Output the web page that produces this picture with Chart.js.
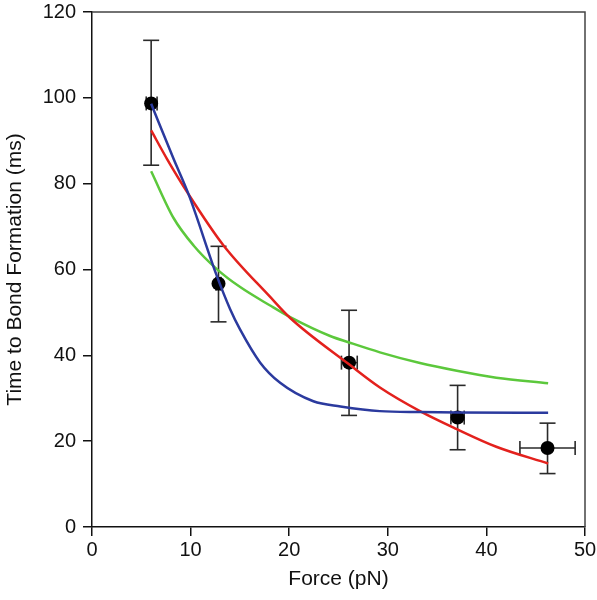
<!DOCTYPE html>
<html>
<head>
<meta charset="utf-8">
<script src="https://cdn.jsdelivr.net/npm/chart.js@4/dist/chart.umd.min.js"></script>
<style>
  html, body { margin: 0; padding: 0; background: #fff; }
  #wrap { width: 597px; height: 600px; }
</style>
</head>
<body>
<div id="wrap"><canvas id="bondChart" width="597" height="600"></canvas></div>
<script>
// measured points
const forceX = [6.0, 12.83, 26.07, 37.08, 46.2];
const timeY = [98.7, 56.7, 38.3, 25.5, 18.4];
const timeErrLow = [84.3, 47.8, 26.0, 18.0, 12.45];
const timeErrHigh = [113.4, 65.4, 50.5, 33.0, 24.2];
const forceErrLow = [5.5, 12.58, 25.3, 36.4, 43.4];
const forceErrHigh = [6.6, 13.08, 26.9, 37.75, 49.0];

// fitted curves
const redFitX = [6.0, 7.6, 9.8, 13.34, 18.07, 20.1, 26.07, 29.2, 33.26, 37.0, 41.0, 46.26];
const redFitY = [92.4, 85.8, 77.5, 65.6, 53.6, 48.7, 37.9, 32.5, 27.0, 22.8, 18.7, 14.8];
const greenFitX = [6.0, 8.27, 10.3, 12.66, 15.03, 18.07, 20.1, 24.15, 26.07, 29.2, 33.26, 37.0, 41.0, 46.26];
const greenFitY = [82.9, 72.0, 65.6, 60.1, 55.9, 51.6, 48.9, 44.5, 43.0, 40.7, 38.2, 36.4, 34.8, 33.5];
const blueFitX = [6.0, 8.27, 9.8, 12.66, 14.0, 15.0, 17.06, 19.08, 22.45, 25.2, 29.2, 33.3, 37.1, 46.26];
const blueFitY = [98.6, 85.8, 77.5, 58.5, 50.8, 46.1, 38.3, 33.6, 29.3, 28.1, 27.0, 26.8, 26.7, 26.6];

const xTicks = [0, 10, 20, 30, 40, 50];
const yTicks = [0, 20, 40, 60, 80, 100, 120];

function toPoints(xs, ys) {
    return xs.map((x, i) => ({ x: x, y: ys[i] }));
}

function fitLine(xs, ys, color) {
    return {
        data: toPoints(xs, ys),
        showLine: true,
        borderColor: color,
        borderWidth: 2.5,
        pointRadius: 0,
        cubicInterpolationMode: 'monotone',
        fill: false
    };
}

const barColor = '#2a2a2a';
const errorSets = [];
forceX.forEach((fx, i) => {
    // vertical bar with caps
    errorSets.push({
        data: [{ x: fx, y: timeErrLow[i] }, { x: fx, y: timeErrHigh[i] }],
        showLine: true,
        borderColor: barColor,
        borderWidth: 1.6,
        pointStyle: 'line',
        rotation: 0,
        pointRadius: 8,
        pointBorderColor: barColor,
        pointBorderWidth: 1.6
    });
    // horizontal bar with caps
    errorSets.push({
        data: [{ x: forceErrLow[i], y: timeY[i] }, { x: forceErrHigh[i], y: timeY[i] }],
        showLine: true,
        borderColor: barColor,
        borderWidth: 1.6,
        pointStyle: 'line',
        rotation: 90,
        pointRadius: 7,
        pointBorderColor: barColor,
        pointBorderWidth: 1.6
    });
});

const frameLines = {
    id: 'frameLines',
    afterDatasetsDraw(chart) {
        const a = chart.chartArea;
        const ctx = chart.ctx;
        ctx.save();
        ctx.strokeStyle = '#444';
        ctx.lineWidth = 1.5;
        ctx.beginPath();
        ctx.moveTo(a.left, a.top);
        ctx.lineTo(a.right, a.top);
        ctx.lineTo(a.right, a.bottom);
        ctx.stroke();
        ctx.restore();
    }
};

const font = { family: "'Liberation Sans', Arial, sans-serif", size: 20 };
const titleFont = { family: "'Liberation Sans', Arial, sans-serif", size: 21 };

new Chart(document.getElementById('bondChart'), {
    type: 'scatter',
    data: {
        datasets: [
            fitLine(blueFitX, blueFitY, '#2b3a9e'),
            fitLine(redFitX, redFitY, '#e3211d'),
            fitLine(greenFitX, greenFitY, '#5cc83c'),
            {
                data: toPoints(forceX, timeY),
                backgroundColor: '#000',
                borderColor: '#000',
                pointRadius: 7,
                pointBorderWidth: 0
            },
            ...errorSets
        ]
    },
    options: {
        responsive: false,
        animation: false,
        events: [],
        layout: { padding: { top: 12, right: 12, left: 0, bottom: 0 } },
        plugins: {
            legend: { display: false },
            tooltip: { enabled: false }
        },
        scales: {
            x: {
                type: 'linear',
                min: 0,
                max: 50,
                afterBuildTicks: (scale) => { scale.ticks = xTicks.map(v => ({ value: v })); },
                afterFit: (scale) => {
                    scale.height = 73;
                    scale.paddingLeft = 0;
                    scale.paddingRight = 0;
                },
                border: { color: '#111', width: 1.5 },
                grid: { drawOnChartArea: false, drawTicks: true, tickLength: 9, color: '#111', lineWidth: 1.5 },
                ticks: { color: '#111', font: font, padding: 2, maxRotation: 0 },
                title: { display: true, text: 'Force (pN)', color: '#111', font: titleFont, padding: { top: 0, bottom: 8 } }
            },
            y: {
                type: 'linear',
                min: 0,
                max: 120,
                afterBuildTicks: (scale) => { scale.ticks = yTicks.map(v => ({ value: v })); },
                afterFit: (scale) => {
                    scale.width = 92;
                    scale.paddingTop = 0;
                    scale.paddingBottom = 0;
                },
                border: { color: '#111', width: 1.5 },
                grid: { drawOnChartArea: false, drawTicks: true, tickLength: 9, color: '#111', lineWidth: 1.5 },
                ticks: { color: '#111', font: font, padding: 7 },
                title: { display: true, text: 'Time to Bond Formation (ms)', color: '#111', font: titleFont, padding: { top: 3, bottom: 0 } }
            }
        }
    },
    plugins: [frameLines]
});
</script>
</body>
</html>
